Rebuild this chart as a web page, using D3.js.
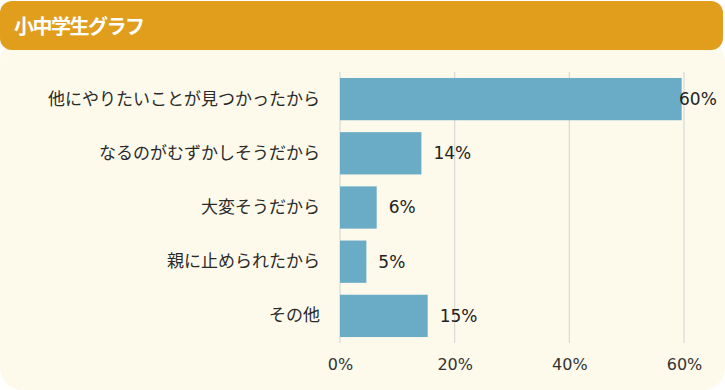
<!DOCTYPE html>
<html lang="ja">
<head>
<meta charset="UTF-8">
<title>小中学生グラフ</title>
<script src="https://cdn.jsdelivr.net/npm/d3@7"></script>
<style>
  body { margin: 0; background: #fff; }
  text { font-family: "DejaVu Sans", "Noto Sans CJK JP", sans-serif; }
</style>
</head>
<body>
<script>
let width = 725;
let height = 390;

let title = '小中学生グラフ';
let categories = ['他にやりたいことが見つかったから', 'なるのがむずかしそうだから', '大変そうだから', '親に止められたから', 'その他'];
let values = [59.6, 14.2, 6.4, 4.6, 15.3];
let ticks = [0, 20, 40, 60];

let plotLeft = 340, plotRight = 684, plotTop = 72, plotBottom = 343;

let x = d3.scaleLinear().domain([0, 60]).range([plotLeft, plotRight]);
let y = d3.scaleBand().domain(categories).range([plotTop, plotBottom]).paddingInner(0.22).paddingOuter(0.11);

let svg = d3.select('body').append('svg')
  .attr('width', width)
  .attr('height', height);

// card background
svg.append('rect')
  .attr('x', 0).attr('y', 40)
  .attr('width', width).attr('height', height - 40)
  .attr('rx', 22)
  .attr('fill', '#fdfaec');

// header
svg.append('rect')
  .attr('x', 0).attr('y', 1)
  .attr('width', 723).attr('height', 49)
  .attr('rx', 12)
  .attr('fill', '#e09e1c');

svg.append('text')
  .attr('x', 14).attr('y', 27)
  .attr('dy', '0.35em')
  .attr('fill', '#fff')
  .attr('font-size', 20)
  .attr('font-weight', 'bold')
  .attr('letter-spacing', -1.5)
  .style('font-family', '"Noto Sans CJK JP", sans-serif')
  .text(title);

// grid
svg.selectAll('line.grid')
  .data(ticks)
  .enter()
  .append('line')
  .attr('class', 'grid')
  .attr('x1', d => x(d)).attr('x2', d => x(d))
  .attr('y1', plotTop).attr('y2', plotBottom)
  .attr('stroke', '#d9d9d6')
  .attr('stroke-width', 1.2);

// x axis labels
let xAxis = d3.axisBottom(x).tickValues(ticks).tickFormat(d => d + '%').tickSize(0).tickPadding(16);
let gx = svg.append('g')
  .attr('transform', 'translate(0,' + plotBottom + ')')
  .call(xAxis);
gx.select('.domain').remove();
gx.selectAll('text').attr('font-size', 16).attr('fill', '#333').style('font-family', '"DejaVu Sans", sans-serif');

// category labels
let yAxis = d3.axisLeft(y).tickSize(0).tickPadding(20);
let gy = svg.append('g')
  .attr('transform', 'translate(' + plotLeft + ',0)')
  .call(yAxis);
gy.select('.domain').remove();
gy.selectAll('text').attr('font-size', 17).attr('fill', '#2a2a2a').style('font-family', '"Noto Sans CJK JP", sans-serif');

// bars
svg.selectAll('rect.bar')
  .data(values)
  .enter()
  .append('rect')
  .attr('class', 'bar')
  .attr('x', x(0))
  .attr('y', (d, i) => y(categories[i]))
  .attr('width', d => x(d) - x(0))
  .attr('height', y.bandwidth())
  .attr('fill', '#6aacc6');

// value labels
svg.selectAll('text.value')
  .data(values)
  .enter()
  .append('text')
  .attr('class', 'value')
  .attr('x', d => Math.min(x(d) + 12, width - 46))
  .attr('y', (d, i) => y(categories[i]) + y.bandwidth() / 2)
  .attr('dy', '0.35em')
  .attr('font-size', 17)
  .attr('fill', '#222')
  .text(d => Math.round(d) + '%');
</script>
</body>
</html>
